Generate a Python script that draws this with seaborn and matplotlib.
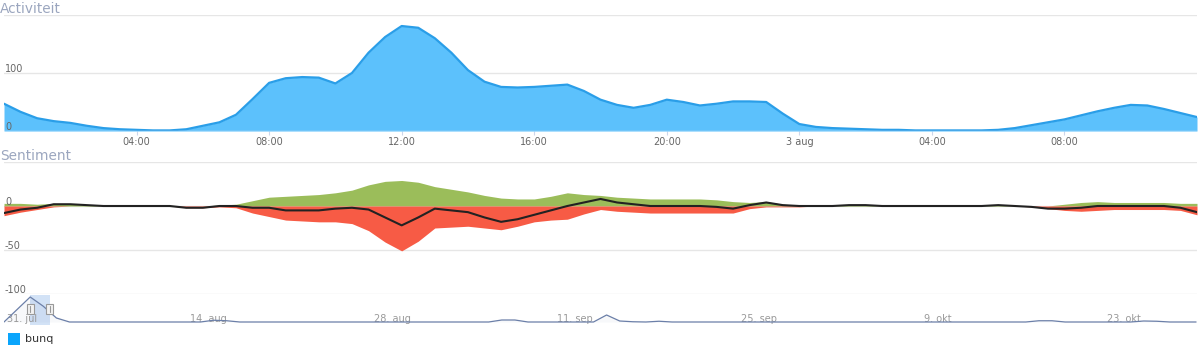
import matplotlib
matplotlib.use("Agg")
import matplotlib.pyplot as plt
import matplotlib.transforms as mtransforms
from matplotlib.patches import Rectangle
import seaborn as sns
import numpy as np
import pandas as pd

# ---------------------------
# DATA
# ---------------------------
# half-hour steps from 2 aug 00:00 to 3 aug 12:00
hours = np.arange(0, 36.5, 0.5)

activity = [47, 33, 22, 17, 14, 9, 5, 3, 2, 1, 1, 3, 9, 15, 28, 55, 83, 91, 93, 92,
            82, 100, 135, 162, 181, 178, 160, 135, 105, 85, 76, 75, 76, 78, 80, 69,
            54, 45, 40, 45, 54, 50, 44, 47, 51, 51, 50, 30, 12, 7, 5, 4, 3, 2, 2, 1,
            1, 1, 1, 1, 2, 5, 10, 15, 20, 27, 34, 40, 45, 44, 38, 31, 24]

sent_pos = [3, 3, 2, 3, 2, 1, 0, 0, 0, 0, 0, 0, 0, 1, 2, 6, 10, 11, 12, 13,
            15, 18, 24, 28, 29, 27, 22, 19, 16, 12, 9, 8, 8, 11, 15, 13,
            12, 10, 9, 8, 8, 8, 8, 7, 5, 4, 5, 2, 1, 0, 0, 1, 1, 0, 0, 0,
            0, 0, 0, 0, 1, 0, 0, 0, 2, 4, 5, 4, 4, 4, 4, 3, 3]

sent_neg = [-11, -7, -4, -1, 0, 0, 0, 0, 0, 0, 0, -2, -2, -1, -2, -8, -12, -16, -17, -18,
            -18, -20, -28, -41, -51, -40, -25, -24, -23, -25, -27, -23, -18, -16, -15, -9,
            -4, -6, -7, -8, -8, -8, -8, -8, -8, -3, -1, -1, -1, 0, 0, 0, 0, 0, 0, 0,
            0, 0, 0, 0, 0, 0, -1, -3, -5, -6, -5, -4, -4, -4, -4, -5, -10]

time_ticks = [4, 8, 12, 16, 20, 24, 28, 32]
time_labels = ["04:00", "08:00", "12:00", "16:00", "20:00", "3 aug", "04:00", "08:00"]

# navigator: days since 31 jul
nav_days = [0, 1, 2, 3, 4, 5, 15, 16, 17, 18, 37, 38, 39, 40, 45, 46, 47, 48, 49,
            50, 51, 78, 79, 80, 81, 86, 87, 88, 89, 91]
nav_values = [0, 50, 100, 63, 16, 0, 0, 7, 5, 0, 0, 8, 8, 0, 0, 28, 4, 1, 0,
              3, 0, 0, 5, 5, 0, 0, 4, 3, 0, 0]
nav_ticks = [0, 14, 28, 42, 56, 70, 84]
nav_labels = ["31. jul", "14. aug", "28. aug", "11. sep", "25. sep", "9. okt", "23. okt"]
nav_end = 91.07
selection = (2, 3.5)

act_grid = [100, 200]
act_labels = {100: "100", 0: "0"}
sent_grid = [50, 0, -50, -100]
sent_labels = {0: "0", -50: "-50", -100: "-100"}

sentiment_net = [p + n for p, n in zip(sent_pos, sent_neg)]
df = pd.DataFrame({"hour": hours, "activity": activity, "pos": sent_pos,
                   "neg": sent_neg, "net": sentiment_net})

# ---------------------------
# STYLE
# ---------------------------
sns.set_theme(style="white")
plt.rcParams["font.family"] = ["DejaVu Sans"]

W, H = 1200, 353
fig = plt.figure(figsize=(W / 100, H / 100), dpi=100)
fig.patch.set_facecolor("white")


def px_axes(x0, y0, x1, y1):
    return fig.add_axes([x0 / W, 1 - y1 / H, (x1 - x0) / W, (y1 - y0) / H])


def clean(ax):
    for s in ax.spines.values():
        s.set_visible(False)
    ax.set_facecolor("none")
    ax.set_xlabel("")
    ax.set_ylabel("")
    ax.set_yticks([])


def y_labels(ax, labels):
    for v, t in labels.items():
        ax.annotate(t, xy=(0, v), xycoords=("axes fraction", "data"),
                    xytext=(1, -1), textcoords="offset pixels",
                    ha="left", va="bottom", fontsize=7, color="#666666", zorder=6)


# ---------------------------
# ACTIVITEIT
# ---------------------------
ax1 = px_axes(4, 15, 1197, 131)
for g in act_grid:
    ax1.axhline(g, color="#e6e6e6", lw=1, zorder=0)
ax1.fill_between(df["hour"], 0, df["activity"], color="#5cc1fc", lw=0, zorder=1)
sns.lineplot(data=df, x="hour", y="activity", ax=ax1, color="#2a9ee8", lw=1.6, zorder=2)
ax1.axhline(0, color="#ccd6eb", lw=1, zorder=3)
clean(ax1)
ax1.set_xlim(0, 36)
ax1.set_ylim(0, 200)
ax1.set_xticks(time_ticks)
ax1.set_xticklabels(time_labels)
ax1.tick_params(axis="x", length=3, width=0.8, color="#ccd6eb", pad=1.5,
                labelsize=7, labelcolor="#666666", bottom=True)
y_labels(ax1, act_labels)

# ---------------------------
# SENTIMENT
# ---------------------------
ax2 = px_axes(4, 162, 1197, 294)
for g in sent_grid:
    ax2.axhline(g, color="#e6e6e6", lw=1, zorder=0)
ax2.fill_between(df["hour"], 0, df["pos"], color="#9bbd5a", lw=0, zorder=1)
ax2.fill_between(df["hour"], df["neg"], 0, color="#f75b45", lw=0, zorder=1)
sns.lineplot(data=df, x="hour", y="net", ax=ax2, color="#222222", lw=1.5, zorder=3)
clean(ax2)
ax2.set_xlim(0, 36)
ax2.set_ylim(-100, 50)
ax2.set_xticks([])
y_labels(ax2, sent_labels)

# ---------------------------
# NAVIGATOR
# ---------------------------
ax3 = px_axes(4, 295, 1197, 325)
ax3.axvspan(*selection, color="#cddff5", alpha=0.9, lw=0, zorder=0)
ax3.fill_between(nav_days, 0, nav_values, color="#6b7fa8", alpha=0.05, lw=0)
sns.lineplot(x=nav_days, y=nav_values, ax=ax3, color="#6b7fa8", lw=0.9, zorder=2)
clean(ax3)
ax3.set_xlim(0, nav_end)
ax3.set_ylim(-12, 108)
ax3.set_xticks([])
for d, t in zip(nav_ticks, nav_labels):
    ax3.annotate(t, xy=(d, 0.2), xycoords=("data", "axes fraction"),
                 xytext=(3, 0), textcoords="offset pixels",
                 ha="left", va="center", fontsize=7, color="#999999", zorder=1)

# handles at both ends of the selected range
trans = mtransforms.blended_transform_factory(ax3.transData, ax3.transAxes)
hw = 7 / (1193 / nav_end)
for edge in selection:
    ax3.add_patch(Rectangle((edge - hw / 2, 0.37), hw, 0.33, transform=trans,
                            facecolor="#f2f2f2", edgecolor="#999999", lw=0.8, zorder=4))
    ax3.plot([edge, edge], [0.45, 0.62], transform=trans, color="#999999", lw=0.8, zorder=5)

# ---------------------------
# TITLES + LEGEND
# ---------------------------
fig.text(0, 1 - 13 / H, "Activiteit", fontsize=9.8, color="#9ba6bf", va="baseline")
fig.text(0, 1 - 160 / H, "Sentiment", fontsize=9.8, color="#9ba6bf", va="baseline")
fig.add_artist(Rectangle((8 / W, 1 - 345 / H), 12 / W, 12 / H, transform=fig.transFigure,
                         facecolor="#0aa5fc", edgecolor="none"))
fig.text(25 / W, 1 - 339 / H, "bunq", fontsize=8, color="#333333", va="center")

fig.savefig("out.png", dpi=100, facecolor="white")
